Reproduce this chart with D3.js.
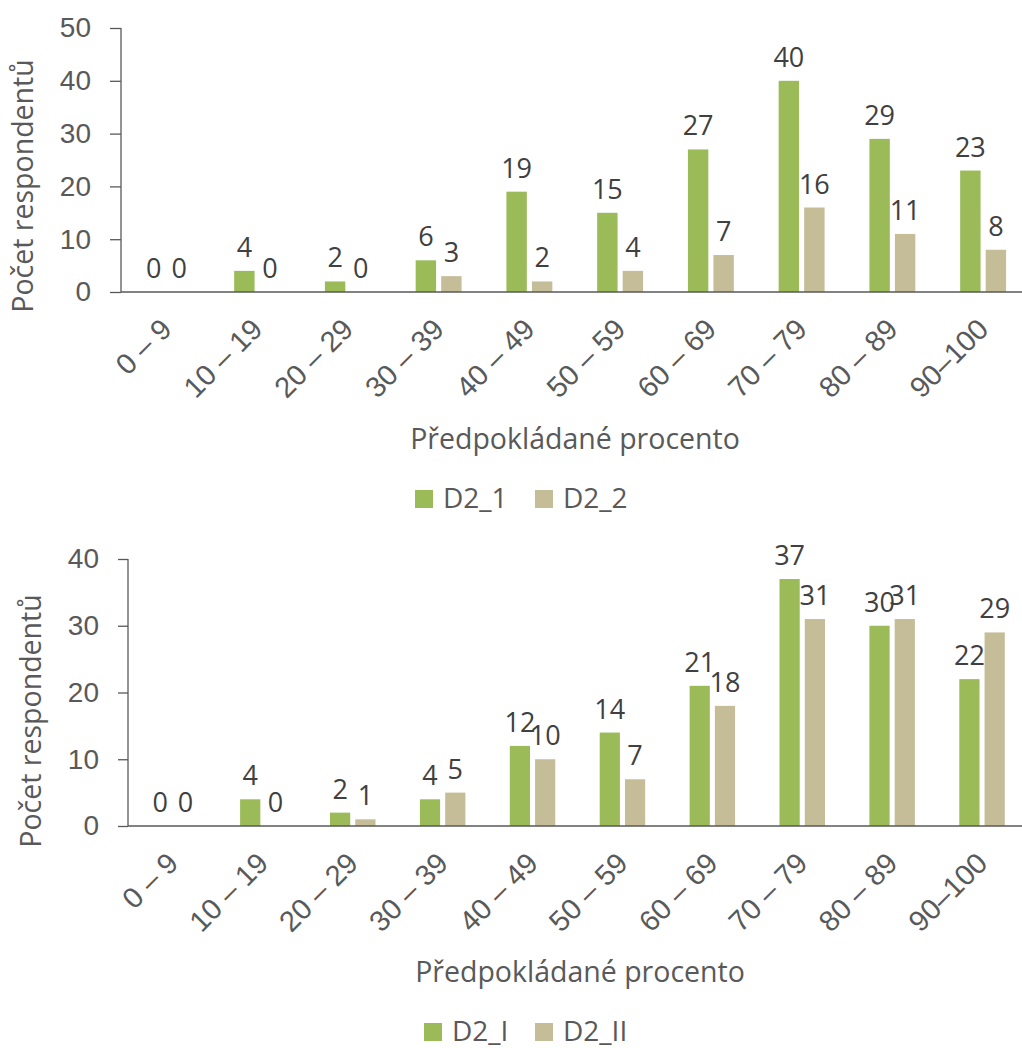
<!DOCTYPE html>
<html>
<head>
<meta charset="utf-8">
<script src="https://cdn.jsdelivr.net/npm/d3@7"></script>
<style>
  html, body { margin: 0; padding: 0; background: #fff; }
  svg { display: block; font-family: "Open Sans", "Liberation Sans", sans-serif; }
</style>
</head>
<body>
<svg id="chart" width="1022" height="1048"></svg>
<script>
// Percentage bins on the x axis
const categories = ["0 – 9", "10 – 19", "20 – 29", "30 – 39", "40 – 49", "50 – 59", "60 – 69", "70 – 79", "80 – 89", "90–100"];

// Upper chart: D2_1 vs D2_2
const topSeries = ["D2_1", "D2_2"];
const topD2_1 = [0, 4, 2, 6, 19, 15, 27, 40, 29, 23];
const topD2_2 = [0, 0, 0, 3, 2, 4, 7, 16, 11, 8];
const topTicks = [0, 10, 20, 30, 40, 50];

// Lower chart: D2_I vs D2_II
const bottomSeries = ["D2_I", "D2_II"];
const bottomD2_I = [0, 4, 2, 4, 12, 14, 21, 37, 30, 22];
const bottomD2_II = [0, 0, 1, 5, 10, 7, 18, 31, 31, 29];
const bottomTicks = [0, 10, 20, 30, 40];

const yTitle = "Počet respondentů";
const xTitle = "Předpokládané procento";

const colors = ["#9BBB59", "#C4BD97"];
const axisColor = "#595959";
const tickText = "#595959";
const labelText = "#404040";

const svg = d3.select("#chart");

function drawChart(opt) {
  const g = svg.append("g");
  const y = d3.scaleLinear().domain([0, opt.ticks[opt.ticks.length - 1]]).range([opt.y0, opt.yTop]);
  const x = d3.scaleBand().domain(categories).range([opt.x0, opt.x0 + opt.step * categories.length]);
  const bw = x.bandwidth();
  const xs = d3.scaleBand().domain(opt.series).range([bw * 0.247, bw * 0.753]).paddingInner(0.2);

  const rows = categories.map((c, i) => ({ c, vals: opt.series.map((s, k) => ({ s, k, v: opt.values[k][i] })) }));

  // bars
  const grp = g.selectAll("g.cat").data(rows).join("g")
    .attr("transform", d => `translate(${x(d.c)},0)`);
  grp.selectAll("rect").data(d => d.vals).join("rect")
    .attr("x", d => xs(d.s))
    .attr("width", xs.bandwidth())
    .attr("y", d => y(d.v))
    .attr("height", d => y(0) - y(d.v))
    .attr("fill", d => colors[d.k]);

  // value labels
  grp.selectAll("text").data(d => d.vals).join("text")
    .attr("x", d => xs(d.s) + xs.bandwidth() / 2)
    .attr("y", d => y(d.v) - 14)
    .attr("text-anchor", "middle")
    .attr("font-size", 27)
    .attr("fill", labelText)
    .text(d => d.v);

  // y axis
  const yAxis = d3.axisLeft(y).tickValues(opt.ticks).tickSize(opt.tickSize).tickPadding(opt.tickPad).tickFormat(d3.format("d"));
  const ya = g.append("g").attr("transform", `translate(${opt.x0},0)`).call(yAxis);
  ya.select(".domain").attr("stroke", axisColor).attr("stroke-width", 1.3).attr("d", `M0,${opt.yTop}V${opt.y0}`);
  ya.selectAll(".tick line").attr("stroke", axisColor).attr("stroke-width", 1.3);
  ya.selectAll(".tick text").attr("font-size", 28).attr("fill", tickText).attr("font-family", null);

  // x axis baseline
  const xAxis = d3.axisBottom(x).tickSize(0).tickPadding(0);
  const xa = g.append("g").attr("transform", `translate(0,${opt.y0})`).call(xAxis);
  xa.select(".domain").attr("stroke", axisColor).attr("stroke-width", 1.3).attr("d", `M${opt.x0},0H1022`);
  xa.selectAll(".tick text")
    .attr("font-size", 29)
    .attr("fill", tickText)
    .attr("font-family", null)
    .attr("text-anchor", "end")
    .attr("dy", null)
    .attr("y", null)
    .attr("transform", `translate(${opt.lblDx},${opt.lblDy}) rotate(-45)`);

  // axis titles
  g.append("text")
    .attr("transform", `translate(${opt.yTitleX},${opt.yTitleY}) rotate(-90)`)
    .attr("text-anchor", "middle")
    .attr("font-size", 28.5)
    .attr("fill", tickText)
    .text(yTitle);
  g.append("text")
    .attr("x", opt.xTitleX).attr("y", opt.xTitleY)
    .attr("text-anchor", "middle")
    .attr("font-size", 28.5)
    .attr("fill", tickText)
    .text(xTitle);

  // legend
  const lg = g.append("g").selectAll("g").data(opt.series).join("g")
    .attr("transform", (d, i) => `translate(${opt.legendX[i]},${opt.legendY})`);
  lg.append("rect").attr("x", 0).attr("y", -9).attr("width", 18).attr("height", 18)
    .attr("fill", (d, i) => colors[i]);
  lg.append("text").attr("x", 28).attr("y", 9)
    .attr("font-size", 28).attr("fill", tickText).text(d => d);
}

drawChart({
  series: topSeries, values: [topD2_1, topD2_2], ticks: topTicks,
  x0: 121, step: 90.75, y0: 292, yTop: 28, tickSize: 11, tickPad: 19,
  lblDx: 7, lblDy: 39,
  yTitleX: 33, yTitleY: 186, xTitleX: 575, xTitleY: 449,
  legendX: [415, 535], legendY: 499
});

drawChart({
  series: bottomSeries, values: [bottomD2_I, bottomD2_II], ticks: bottomTicks,
  x0: 128, step: 89.9, y0: 826, yTop: 559, tickSize: 10, tickPad: 19,
  lblDx: 7, lblDy: 39,
  yTitleX: 41, yTitleY: 721, xTitleX: 580, xTitleY: 982,
  legendX: [424, 535], legendY: 1032
});
</script>
</body>
</html>
